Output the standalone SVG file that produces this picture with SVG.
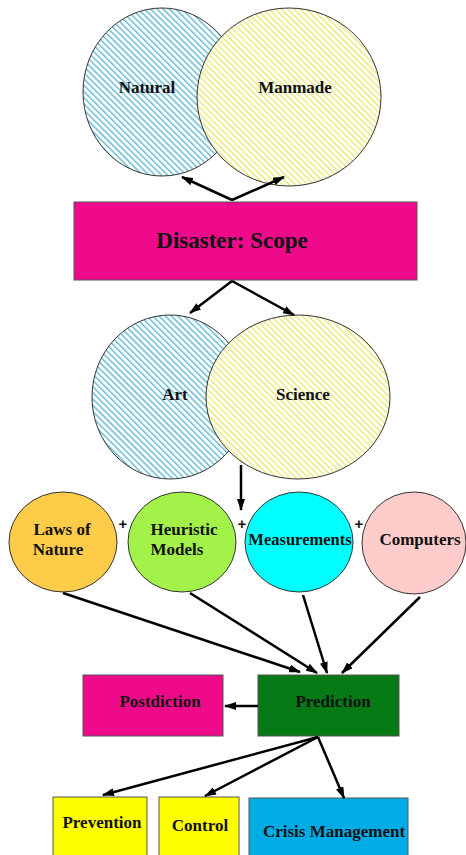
<svg xmlns="http://www.w3.org/2000/svg" width="466" height="855" viewBox="0 0 466 855">
<defs>
<pattern id="hBlue" patternUnits="userSpaceOnUse" width="4.4" height="4.4" patternTransform="rotate(45)">
<rect width="4.4" height="4.4" fill="#ffffff"/>
<line x1="0" y1="1" x2="4.4" y2="1" stroke="#6cbfd8" stroke-width="1.5"/>
</pattern>
<pattern id="hYellow" patternUnits="userSpaceOnUse" width="4.4" height="4.4" patternTransform="rotate(45)">
<rect width="4.4" height="4.4" fill="#ffffff"/>
<line x1="0" y1="1" x2="4.4" y2="1" stroke="#ebeb78" stroke-width="1.5"/>
</pattern>
<marker id="arr" markerUnits="userSpaceOnUse" markerWidth="12" markerHeight="8" refX="11" refY="4" orient="auto">
<path d="M0,0 L12,4 L0,8 z" fill="#000"/>
</marker>
</defs>
<style>
.t{font-family:"Liberation Serif","Times New Roman",serif;font-weight:bold;fill:#111;text-anchor:middle}
.s17{font-size:17px}
.ol{stroke:#333;stroke-width:1}
.box{stroke:#555;stroke-width:1}
.c{stroke:#000;stroke-width:2.5;fill:none;marker-end:url(#arr)}
.plus{font-family:"Liberation Sans",Arial,sans-serif;font-weight:bold;font-size:15px;fill:#111;text-anchor:middle}
</style>
<rect width="466" height="855" fill="#ffffff"/>

<g id="natural">
<ellipse cx="162" cy="92" rx="79" ry="84" fill="url(#hBlue)" class="ol"/>
<text x="147" y="93" class="t s17">Natural</text>
</g>
<g id="manmade">
<ellipse cx="289" cy="97" rx="92" ry="89" fill="url(#hYellow)" class="ol"/>
<text x="295" y="93" class="t s17">Manmade</text>
</g>

<g id="disaster">
<rect x="74" y="202" width="343" height="78" fill="#ee0a8a" class="box"/>
<text x="232" y="248" class="t" font-size="23">Disaster: Scope</text>
</g>

<g id="art">
<ellipse cx="170" cy="397" rx="78" ry="82" fill="url(#hBlue)" class="ol"/>
<text x="175" y="400" class="t s17">Art</text>
</g>
<g id="science">
<ellipse cx="298" cy="397" rx="92" ry="82" fill="url(#hYellow)" class="ol"/>
<text x="303" y="400" class="t s17">Science</text>
</g>

<g id="laws">
<ellipse cx="63" cy="542" rx="54" ry="50" fill="#ffcc4a" class="ol"/>
<text x="62" y="535" class="t s17">Laws of</text>
<text x="58" y="555" class="t s17">Nature</text>
</g>
<g id="heuristic">
<ellipse cx="182" cy="542" rx="54" ry="50" fill="#a3f24a" class="ol"/>
<text x="184" y="535" class="t s17">Heuristic</text>
<text x="177" y="555" class="t s17">Models</text>
</g>
<g id="measurements">
<ellipse cx="299" cy="542" rx="54" ry="50" fill="#00ffff" class="ol"/>
<text x="300" y="545" class="t" font-size="16.5">Measurements</text>
</g>
<g id="computers">
<ellipse cx="414" cy="543" rx="52" ry="51" fill="#ffcccc" class="ol"/>
<text x="420" y="545" class="t s17">Computers</text>
</g>
<g id="plus-signs">
<text x="123" y="529" class="plus">+</text>
<text x="242" y="529" class="plus">+</text>
<text x="359" y="529" class="plus">+</text>
</g>

<g id="postdiction">
<rect x="83" y="675" width="140" height="61" fill="#ee0a8a" class="box"/>
<text x="160" y="707" class="t s17">Postdiction</text>
</g>
<g id="prediction">
<rect x="258" y="675" width="141" height="61" fill="#057a14" class="box"/>
<text x="333" y="707" class="t s17">Prediction</text>
</g>

<g id="prevention">
<rect x="53" y="797" width="94" height="70" fill="#ffff00" class="box"/>
<text x="102" y="828" class="t s17">Prevention</text>
</g>
<g id="control">
<rect x="159" y="797" width="80" height="70" fill="#ffff00" class="box"/>
<text x="200" y="831" class="t s17">Control</text>
</g>
<g id="crisis">
<rect x="249" y="798" width="159" height="70" fill="#00ace6" class="box"/>
<text x="334" y="837" class="t s17">Crisis Management</text>
</g>

<g id="connectors">
<line x1="232" y1="200" x2="182" y2="177" class="c"/>
<line x1="232" y1="200" x2="284" y2="177" class="c"/>
<line x1="232" y1="281" x2="190" y2="313" class="c"/>
<line x1="232" y1="281" x2="294" y2="315" class="c"/>
<line x1="241" y1="465" x2="241" y2="510" class="c"/>
<line x1="63" y1="593" x2="300" y2="672" class="c"/>
<line x1="190" y1="593" x2="317" y2="673" class="c"/>
<line x1="303" y1="595" x2="327" y2="673" class="c"/>
<line x1="420" y1="597" x2="342" y2="673" class="c"/>
<line x1="258" y1="706" x2="225" y2="706" class="c"/>
<line x1="318" y1="737" x2="103" y2="795" class="c"/>
<line x1="318" y1="737" x2="205" y2="796" class="c"/>
<line x1="318" y1="737" x2="344" y2="798" class="c"/>
</g>
</svg>
